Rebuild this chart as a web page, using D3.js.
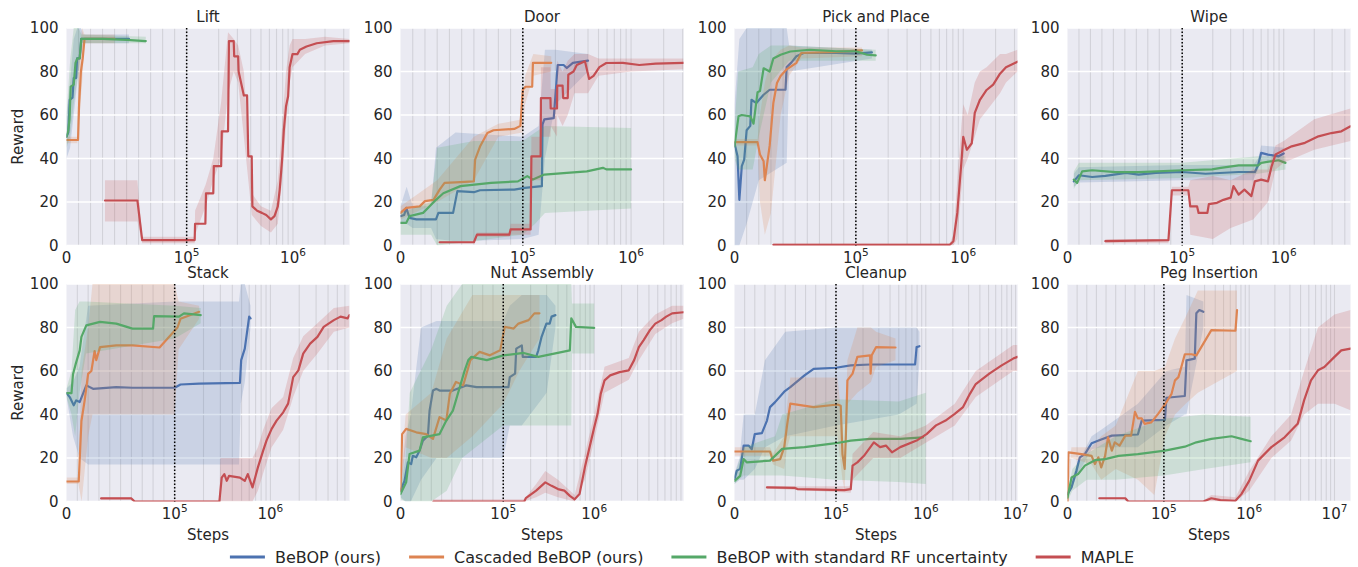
<!DOCTYPE html>
<html>
<head>
<meta charset="utf-8">
<script src="https://cdn.jsdelivr.net/npm/d3@7"></script>
<style>
  body { margin: 0; background: #fff; }
  svg { display: block; }
  text { font-family: "DejaVu Sans", sans-serif; fill: #262626; }
</style>
</head>
<body>
<svg id="chart" width="1358" height="567"></svg>
<script>
// ---- chart data (steps, reward) ----
const panelTitles = ["Lift", "Door", "Pick and Place", "Wipe", "Stack", "Nut Assembly", "Cleanup", "Peg Insertion"];
const panelMaxSteps = [3.4e6, 3.05e6, 3.2e6, 4.55e6, 6.7e6, 9.6e6, 1.05e7, 1.54e7];
const seriesNames = ["BeBOP (ours)", "Cascaded BeBOP (ours)", "BeBOP with standard RF uncertainty", "MAPLE"];
const seriesColors = ["#4C72B0", "#DD8452", "#55A868", "#C44E52"];
const yTicks = [0, 20, 40, 60, 80, 100];
const xMajorTicks = [0, 1e5, 1e6, 1e7];
const dividerStep = 1e5;

// Lift
const liftBlue = [[0,50],[1500,52],[2700,67],[5000,68],[6000,77],[8000,77],[8800,86],[11000,86],[12300,95],[30000,95],[52000,95]];
const liftBlueBand = [[0,40,60],[3000,45,75],[6000,60,95],[9000,75,100],[12000,88,100],[14000,93,97],[52000,93,97]];
const liftOrange = [[0,48.5],[9600,48.5],[10500,65],[12000,80],[13500,86],[15000,95],[40000,95]];
const liftOrangeBand = [[0,47,50],[9000,47,50],[10000,55,85],[13000,75,100],[15000,93,97],[40000,93,97]];
const liftGreen = [[0,50],[1500,53],[2500,58],[3500,73],[6000,74],[7500,84],[9000,86],[11000,86],[12300,95],[30000,95],[50000,94.5],[66000,94]];
const liftGreenBand = [[0,45,60],[3000,50,85],[6000,65,100],[10000,80,100],[12500,93,97],[66000,93,96]];
const liftRed = [[32000,20.7],[59000,20.7],[63000,2.5],[119000,2.5],[120000,10],[150000,10],[152000,24],[178000,24],[180000,36.5],[211000,36.5],[214000,52.5],[245000,52.5],[250000,94],[277000,94],[280000,87],[305000,87],[308000,80],[345000,69],[370000,69],[380000,41],[409000,41],[415000,18],[460000,16],[510000,15],[560000,14],[620000,12],[670000,13.5],[720000,18],[750000,25.7],[790000,39.5],[820000,53],[860000,64],[900000,68.6],[930000,82],[990000,88],[1100000,88],[1160000,90],[1340000,91.5],[1670000,93],[2400000,94],[3400000,94]];
const liftRedBand = [[32000,11,30],[59000,11,30],[63000,1,4],[119000,1,4],[120000,5,16],[151000,18,28],[178000,30,40],[211000,40,66],[245000,70,98],[277000,80,95],[305000,75,92],[345000,50,80],[380000,30,50],[410000,14,24],[500000,9,18],[620000,6,16],[720000,10,30],[790000,30,55],[860000,55,80],[930000,75,92],[990000,82,95],[1300000,88,95],[2000000,92,96],[3400000,93,95]];

// Door
const doorBlue = [[0,13.5],[3000,14],[4700,17.3],[7400,12.7],[13000,12],[29000,12],[31000,15],[43000,15],[46500,25],[60000,24.5],[65000,25.4],[93000,25.7],[104000,26.5],[150000,27.3],[152000,55.6],[158000,58],[193000,58.6],[210000,83],[238000,83],[255000,81.6],[290000,84],[400000,85]];
const doorBlueBand = [[0,10,18],[5000,10,27],[10000,8,18],[25000,8,18],[29000,3,45],[45000,2,52],[100000,3,50],[140000,5,55],[160000,40,90],[200000,65,90],[400000,80,88]];
const doorOrange = [[0,15],[4700,17.3],[15700,18],[20000,20.4],[27000,21],[32000,25.7],[36000,28.8],[45000,29],[60000,29.5],[61000,39.5],[65000,45.5],[71000,51.7],[76000,53],[93000,53.6],[98000,55],[100000,71.7],[106000,73],[122000,73],[124000,84],[183000,84]];
const doorOrangeBand = [[0,12,18],[30000,20,30],[60000,30,50],[80000,50,56],[100000,52,58],[105000,65,78],[125000,78,88],[183000,80,87]];
const doorGreen = [[0,10.4],[4700,10.4],[7400,13.5],[18500,15],[29000,21],[35000,24],[49000,27.3],[74000,28.8],[96000,29.5],[110000,31.9],[124000,30.3],[158000,32.6],[255000,33.4],[390000,34.1],[550000,35.7],[590000,35],[1000000,35]];
const doorGreenBand = [[0,5,15],[25000,5,20],[30000,0,45],[60000,2,48],[100000,5,48],[130000,10,52],[160000,15,55],[1000000,17,54]];
const doorRed = [[32000,1.5],[60000,1.5],[62500,5],[89000,5],[90000,7.4],[118000,7.4],[120000,41],[146000,41],[147000,67.8],[180000,67.8],[181000,63],[207000,63],[208000,73.5],[233000,73.5],[236000,67.8],[260000,67.8],[263000,78.5],[294000,80],[315000,83],[375000,84.7],[410000,76.6],[450000,78],[510000,82],[590000,83.9],[840000,84],[1190000,83],[1690000,83.6],[3050000,84]];
const doorRedBand = [[32000,1,2],[60000,1,2],[62500,4,6],[89000,4,6],[90000,5,10],[118000,5,10],[120000,30,50],[146000,30,50],[147000,50,82],[180000,50,82],[181000,55,72],[207000,50,72],[208000,60,85],[233000,55,80],[260000,60,85],[300000,70,88],[400000,70,88],[500000,78,86],[1000000,80,86],[3050000,81,86]];

// Pick and Place
const pickBlue = [[0,47],[2500,41],[4000,21],[6000,36.5],[8000,39.5],[10000,53],[13000,55],[14000,67],[18000,65.5],[24000,69.3],[29000,71.6],[42000,71.6],[43000,82],[47000,84.2],[51000,87],[57000,88.5],[84000,88.5],[100000,88.2],[141000,88.8]];
const pickBlueBand = [[0,0,65],[4000,0,95],[10000,10,100],[20000,30,100],[43000,38,100],[45000,80,92],[141000,86,90]];
const pickOrange = [[0,47.5],[19000,47.5],[21000,41.8],[24000,38.7],[25000,30],[27000,38],[29000,46],[32000,65.5],[35000,74.7],[38000,77.9],[43000,81],[51000,84],[55000,88.5],[84000,89],[114000,89.7]];
const pickOrangeBand = [[0,46,49],[19000,46,49],[21000,20,60],[25000,5,75],[30000,15,85],[38000,60,90],[45000,78,92],[55000,86,91],[114000,87,91]];
const pickGreen = [[0,45.6],[3300,59.4],[6000,60],[13000,59.4],[15700,56],[19000,70.5],[21000,71],[24000,81.5],[29000,80],[32000,86],[38000,87.7],[46000,89.2],[62000,90],[84000,89.3],[100000,89.3],[127000,87.7],[153000,87.4]];
const pickGreenBand = [[0,40,55],[3000,35,80],[15000,35,82],[20000,50,88],[30000,75,92],[45000,85,92],[153000,85,90]];
const pickRed = [[32000,0.3],[750000,0.3],[810000,2],[880000,15],[960000,38],[1000000,50],[1080000,44],[1200000,47],[1280000,61],[1430000,67],[1650000,71.5],[1900000,74],[2200000,79],[2500000,82],[3200000,84.5]];
const pickRedBand = [[32000,0,1],[750000,0,1],[810000,0,5],[880000,3,30],[960000,25,55],[1000000,35,65],[1100000,40,60],[1280000,50,75],[1430000,58,80],[1650000,62,82],[2200000,70,88],[2500000,75,88],[3200000,80,90]];

// Wipe
const wipeBlue = [[5500,29.5],[10000,32.3],[21500,31.5],[33000,32],[51000,33.4],[62000,32.6],[77000,33.4],[100000,33.8],[170000,33],[360000,33.8],[520000,33.8],[560000,37],[600000,42.6],[700000,41.8],[890000,41],[1000000,42.3]];
const wipeBlueBand = [[5500,27,33],[10000,29,36],[100000,30,37],[500000,30,37],[560000,35,40],[600000,39,46],[1000000,39,45]];
const wipeOrange = [];
const wipeOrangeBand = [];
const wipeGreen = [[5500,30.3],[8400,28.8],[12800,34.1],[21500,34.6],[42000,33.7],[62000,33.7],[100000,34.6],[197000,35],[240000,35.7],[360000,36.8],[560000,36.8],[600000,38],[890000,39.2],[1040000,38]];
const wipeGreenBand = [[5500,26,34],[10000,30,38],[100000,31,38],[560000,33,41],[1040000,35,41]];
const wipeRed = [[33000,2],[88000,2.5],[91000,25.4],[115000,25.4],[120000,18],[140000,18],[145000,15],[177000,15],[183000,19],[220000,19.6],[255000,21],[300000,22],[320000,27.3],[360000,23.4],[410000,25.7],[480000,22.7],[520000,29.5],[600000,30.3],[700000,29.5],[760000,36.4],[830000,41.8],[960000,43.4],[1200000,45.6],[1620000,47.2],[2200000,50.2],[2950000,51.7],[3700000,52.5],[4550000,54.8]];
const wipeRedBand = [[33000,1,3],[88000,1,3],[91000,23,27],[115000,23,27],[120000,5,30],[200000,3,32],[300000,8,30],[500000,12,35],[700000,20,35],[830000,35,46],[1000000,38,48],[2000000,44,58],[4550000,48,63]];

// Stack
const stackBlue = [[0,49.8],[3000,48],[6700,44.2],[9000,46.5],[12200,45.7],[18300,53.4],[24500,51.8],[46000,52.6],[61000,52.3],[100000,52.3],[115000,53.8],[180000,54.2],[480000,54.5],[495000,65],[540000,70.3],[580000,80.3],[600000,85],[620000,84.2]];
const stackBlueBand = [[0,48,52],[6000,30,55],[12000,20,62],[20000,17,90],[100000,17,92],[470000,17,92],[490000,45,100],[540000,55,100],[620000,80,90]];
const stackOrange = [[0,9.2],[11300,9.2],[13800,37],[16800,46.5],[20000,58.7],[23000,60],[26000,69.2],[27500,65],[31000,71],[46000,71.8],[61000,71.8],[86000,70.8],[107000,80],[115000,84],[180000,87.2]];
const stackOrangeBand = [[0,8,11],[11000,8,11],[14000,0,60],[20000,30,80],[24000,40,100],[100000,40,100],[110000,70,92],[180000,84,90]];
const stackGreen = [[0,49.8],[4600,49.8],[6000,58.5],[8600,63.4],[12200,69.5],[13800,75.7],[18300,81],[31000,82.6],[46000,81.8],[61000,79.5],[80000,79.5],[81000,85.2],[111000,85],[125000,86.5],[187000,85.7]];
const stackGreenBand = [[0,48,52],[4600,40,60],[8000,30,88],[12000,50,92],[18000,68,92],[100000,75,90],[187000,82,89]];
const stackRed = [[32000,1.4],[60000,1.4],[63000,0],[293000,0],[310000,11],[330000,12.6],[350000,9.5],[370000,11.8],[480000,11],[540000,9.5],[580000,12.6],[650000,6.5],[740000,15.7],[840000,23.4],[910000,28],[1030000,33.4],[1160000,37.2],[1360000,41],[1530000,45],[1730000,57.2],[1960000,60.3],[2200000,68],[2600000,72.6],[3100000,75.7],[3600000,80.3],[4600000,83.4],[5400000,85],[6400000,84.2],[6700000,85.7]];
const stackRedBand = [[32000,1,2],[60000,1,2],[63000,0,0.5],[293000,0,0.5],[300000,0,20],[650000,0,20],[740000,5,25],[840000,13,33],[1030000,25,43],[1360000,33,48],[1730000,48,66],[2200000,60,76],[3100000,68,82],[4600000,78,89],[6700000,80,90]];

// Nut Assembly
const nutBlue = [[0,5],[3900,9.5],[7200,18],[10400,17.2],[12000,21],[15300,20.3],[18600,23.4],[21800,28],[26700,30.3],[28300,41.8],[31600,51],[35000,51.8],[38000,51],[51000,51],[64000,53.4],[74000,52.6],[114000,52.6],[118000,57.2],[135000,58.8],[139000,70.3],[160000,71.8],[164000,66.5],[230000,66.5],[243000,69.5],[264000,75.7],[298000,81.8],[324000,81.8],[340000,85],[375000,85.7]];
const nutBlueBand = [[0,2,8],[5000,0,30],[10000,0,40],[20000,10,80],[35000,20,83],[100000,20,83],[118000,35,90],[160000,35,95],[300000,50,95],[375000,80,90]];
const nutOrange = [[0,5],[1600,31],[5500,33.4],[15300,31.8],[25000,31],[31600,28.8],[38000,38.8],[44600,37.2],[48000,49.5],[54000,55],[61000,53.4],[68000,65],[77000,68.8],[87000,67.2],[97000,69.5],[104000,80.3],[130000,79.5],[147000,81.8],[190000,83.4],[220000,86.5],[250000,86.5]];
const nutOrangeBand = [[0,3,10],[5000,25,40],[30000,20,50],[45000,20,75],[70000,30,95],[100000,45,95],[150000,60,95],[250000,75,95]];
const nutGreen = [[0,3.4],[5500,8.8],[8800,21.8],[18600,23.4],[21800,29.5],[38000,31],[44600,37.2],[51000,41.8],[62500,60.3],[66000,65],[69000,66.5],[84000,65],[100000,67.2],[168000,68.3],[243000,66.5],[540000,69.5],[560000,84.2],[630000,80.3],[1000000,79.8]];
const nutGreenBand = [[0,1,6],[5000,0,20],[9000,0,50],[30000,0,70],[45000,5,90],[60000,20,100],[100000,35,100],[200000,35,100],[560000,35,100],[570000,68,91],[1000000,68,91]];
const nutRed = [[32000,0],[170000,0],[177000,1.5],[230000,5],[290000,8.8],[340000,7.2],[400000,5.7],[470000,5],[540000,2.6],[610000,1],[690000,3.4],[790000,15.7],[1000000,34],[1090000,40.3],[1180000,49.5],[1300000,55.7],[1500000,58],[1900000,59.5],[2400000,60.3],[2750000,65],[3100000,71],[3500000,74.2],[4100000,78.8],[4700000,81.8],[5500000,83.4],[6200000,85],[7200000,86.5],[9600000,87]];
const nutRedBand = [[32000,0,1],[170000,0,1],[230000,2,8],[290000,4,14],[400000,2,10],[610000,0,3],[790000,10,22],[1000000,28,40],[1300000,50,62],[2400000,56,66],[3100000,65,78],[4700000,77,86],[7200000,82,90],[9600000,84,90]];

// Cleanup
const cleanBlue = [[0,10.3],[2300,14.2],[5600,15],[9000,25.7],[14000,25.7],[17000,24],[20000,31],[27000,31.4],[32000,37.2],[35000,43.4],[40000,45.7],[49000,50.5],[55000,52.6],[69000,58],[78000,61],[100000,61.5],[146000,62.6],[240000,63],[520000,63],[760000,63],[790000,71],[850000,71.4]];
const cleanBlueBand = [[0,8,13],[5000,10,20],[9000,10,40],[20000,15,40],[30000,25,65],[50000,30,78],[100000,35,80],[500000,40,80],[790000,45,80],[850000,65,78]];
const cleanOrange = [[0,23],[35000,23],[38000,18.8],[45000,19.5],[49000,25],[52000,35.7],[55000,45],[78000,43.4],[104000,44.6],[113000,44],[118000,21.8],[125000,15],[129000,31],[134000,55.7],[153000,58.8],[173000,66.5],[240000,67.2],[243000,58.8],[250000,67.2],[280000,71],[460000,70.8]];
const cleanOrangeBand = [[0,21,25],[35000,21,25],[38000,17,22],[49000,15,30],[52000,25,45],[55000,30,57],[104000,30,57],[118000,10,35],[125000,5,20],[134000,45,65],[173000,50,80],[245000,55,80],[280000,62,78],[460000,65,75]];
const cleanGreen = [[0,9.5],[5600,11.8],[9000,19.5],[12000,18],[35000,18.8],[47000,24.2],[69000,25],[100000,26.8],[146000,28],[240000,28.8],[520000,28.8],[930000,29.5]];
const cleanGreenBand = [[0,8,12],[9000,12,25],[40000,12,30],[47000,12,40],[100000,10,47],[500000,9,46],[1000000,8,50]];
const cleanRed = [[32000,6.5],[59000,6.3],[62000,5.7],[124000,5.2],[146000,5.7],[153000,16.5],[173000,18],[205000,21],[264000,27.2],[310000,25],[360000,25.7],[420000,22.6],[520000,25],[790000,28],[1020000,31],[1300000,35],[1660000,37.2],[2100000,40.3],[2600000,43.4],[3100000,49.5],[3600000,54],[5100000,58.8],[7000000,62.6],[9400000,65.7],[10500000,66.5]];
const cleanRedBand = [[32000,6,7],[146000,4,7],[153000,10,22],[260000,20,32],[520000,20,30],[1000000,27,35],[2100000,35,45],[3600000,48,60],[9400000,60,72],[10500000,60,72]];

// Peg Insertion
const pegBlue = [[0,3.4],[4200,6.5],[9300,14.2],[12800,20.3],[18000,21.8],[25000,26.8],[35000,28.5],[46000,30.3],[73000,30.8],[77000,37.2],[103000,37.5],[107000,47.7],[176000,48.5],[184000,64.9],[230000,65.7],[240000,86.5],[260000,88],[290000,87.2]];
const pegBlueBand = [[0,2,5],[10000,12,17],[25000,24,30],[35000,25,33],[73000,25,45],[107000,35,60],[176000,40,62],[184000,40,95],[290000,80,92]];
const pegOrange = [[0,0],[1000,22.6],[14500,21.8],[25000,21],[28500,17.2],[32000,20.3],[35000,15.7],[39000,21],[42000,29.5],[46000,23.4],[49000,27.2],[54000,25.7],[60000,30.3],[66000,30.3],[70000,41.2],[73000,38.2],[77000,38.2],[80000,35.7],[87000,36.4],[94000,40.3],[103000,44.6],[123000,49.5],[135000,55.7],[148000,57.2],[160000,61.8],[176000,67.7],[210000,67.7],[240000,67.2],[290000,72.6],[360000,78.8],[690000,78.5],[720000,88]];
const pegOrangeBand = [[0,0,3],[4000,20,25],[25000,17,25],[35000,10,30],[50000,15,35],[73000,10,60],[90000,3,60],[103000,30,62],[135000,40,75],[180000,45,85],[250000,50,97],[720000,60,97]];
const pegGreen = [[0,1.8],[4200,11],[11000,12.6],[18000,16.5],[28500,19],[39000,19.5],[53000,21],[73000,21.8],[103000,23.4],[176000,25.2],[240000,27.2],[360000,28.8],[620000,30],[810000,28.8],[1040000,27.7]];
const pegGreenBand = [[0,0,3],[5000,5,15],[20000,10,22],[50000,10,30],[100000,12,38],[300000,15,40],[1040000,18,39]];
const pegRed = [[33000,1.5],[60000,1.5],[63000,0],[290000,0],[360000,1.5],[460000,0.6],[690000,0.3],[810000,3.4],[1000000,9.5],[1270000,18.8],[1820000,25],[2600000,29.5],[3100000,32.6],[3700000,35.7],[4400000,46.5],[5300000,55.7],[6400000,60.3],[7600000,61.8],[10000000,66.5],[12000000,69.5],[15400000,70.3]];
const pegRedBand = [[33000,1,2],[60000,1,2],[63000,0,0.5],[290000,0,0.5],[360000,0,3],[690000,0,2],[1000000,5,14],[1820000,20,30],[3100000,28,40],[4400000,40,60],[6400000,45,80],[10000000,45,86],[15400000,42,88]];

// per panel: [line, band] for blue, orange, green, red
const panelSeries = [
  [[liftBlue, liftBlueBand], [liftOrange, liftOrangeBand], [liftGreen, liftGreenBand], [liftRed, liftRedBand]],
  [[doorBlue, doorBlueBand], [doorOrange, doorOrangeBand], [doorGreen, doorGreenBand], [doorRed, doorRedBand]],
  [[pickBlue, pickBlueBand], [pickOrange, pickOrangeBand], [pickGreen, pickGreenBand], [pickRed, pickRedBand]],
  [[wipeBlue, wipeBlueBand], [wipeOrange, wipeOrangeBand], [wipeGreen, wipeGreenBand], [wipeRed, wipeRedBand]],
  [[stackBlue, stackBlueBand], [stackOrange, stackOrangeBand], [stackGreen, stackGreenBand], [stackRed, stackRedBand]],
  [[nutBlue, nutBlueBand], [nutOrange, nutOrangeBand], [nutGreen, nutGreenBand], [nutRed, nutRedBand]],
  [[cleanBlue, cleanBlueBand], [cleanOrange, cleanOrangeBand], [cleanGreen, cleanGreenBand], [cleanRed, cleanRedBand]],
  [[pegBlue, pegBlueBand], [pegOrange, pegOrangeBand], [pegGreen, pegGreenBand], [pegRed, pegRedBand]]
];

// ---- layout ----
const colX = [66.5, 400.5, 734.5, 1067.5];
const rowY = [28, 284];
const panelW = 283, panelH = 217.5;
const LIN_THRESH = 1e5;
const LIN_SCALE = 1.13; // width of the linear part, in decades (symlog)

function symT(v) {
  return v <= LIN_THRESH ? LIN_SCALE * v / LIN_THRESH : LIN_SCALE + Math.log10(v / LIN_THRESH);
}

const svg = d3.select('#chart');

panelTitles.forEach((title, i) => {
  const col = i % 4, row = Math.floor(i / 4);
  const maxStep = panelMaxSteps[i];
  const tScale = d3.scaleLinear().domain([0, symT(maxStep)]).range([0, panelW]);
  const x = v => tScale(symT(v));
  const y = d3.scaleLinear().domain([0, 100]).range([panelH, 0]);

  const g = svg.append('g').attr('transform', `translate(${colX[col]},${rowY[row]})`);
  g.append('rect').attr('width', panelW).attr('height', panelH).attr('fill', '#EAEAF2');

  const clipId = 'clip' + i;
  g.append('clipPath').attr('id', clipId)
    .append('rect').attr('width', panelW).attr('height', panelH);

  // vertical grid (minor + major)
  const vTicks = d3.range(1, 11).map(k => k * 1e4);
  for (let d = 1e5; d < maxStep; d *= 10) {
    for (let m = 2; m <= 10; m++) if (d * m <= maxStep) vTicks.push(d * m);
  }
  g.append('g').selectAll('line').data(vTicks).join('line')
    .attr('x1', d => x(d)).attr('x2', d => x(d))
    .attr('y1', 0).attr('y2', panelH)
    .attr('stroke', '#d2d2d9').attr('stroke-width', 1.1);

  // horizontal grid
  g.append('g').selectAll('line').data(yTicks).join('line')
    .attr('x1', 0).attr('x2', panelW)
    .attr('y1', d => y(d)).attr('y2', d => y(d))
    .attr('stroke', '#ffffff').attr('stroke-width', 1.3);

  // series
  const plot = g.append('g').attr('clip-path', `url(#${clipId})`);
  const area = d3.area().x(d => x(d[0])).y0(d => y(d[1])).y1(d => y(d[2]));
  const line = d3.line().x(d => x(d[0])).y(d => y(d[1]));
  panelSeries[i].forEach(([pts, band], s) => {
    if (band.length) {
      plot.append('path').attr('d', area(band))
        .attr('fill', seriesColors[s]).attr('fill-opacity', 0.2).attr('stroke', 'none');
    }
    if (pts.length) {
      plot.append('path').attr('d', line(pts))
        .attr('fill', 'none').attr('stroke', seriesColors[s])
        .attr('stroke-width', 2.2).attr('stroke-linejoin', 'round').attr('stroke-linecap', 'round');
    }
  });

  // dotted divider
  g.append('line')
    .attr('x1', x(dividerStep)).attr('x2', x(dividerStep))
    .attr('y1', 0).attr('y2', panelH)
    .attr('stroke', '#000').attr('stroke-width', 1.5).attr('stroke-dasharray', '1.5,2');

  // y tick labels
  g.append('g').selectAll('text').data(yTicks).join('text')
    .attr('x', -8).attr('y', d => y(d))
    .attr('text-anchor', 'end').attr('dominant-baseline', 'central')
    .style('font-size', '15px').text(d => d);

  // x tick labels
  const xt = g.append('g').selectAll('text').data(xMajorTicks.filter(d => d <= maxStep)).join('text')
    .attr('x', d => x(d)).attr('y', panelH + 17)
    .attr('text-anchor', 'middle').style('font-size', '15px');
  xt.each(function(d) {
    const t = d3.select(this);
    if (d === 0) { t.text('0'); return; }
    t.append('tspan').text('10');
    t.append('tspan').attr('dy', -7).style('font-size', '10.5px').text(Math.round(Math.log10(d)));
  });

  // title
  g.append('text').attr('x', panelW / 2).attr('y', -6)
    .attr('text-anchor', 'middle').style('font-size', '15px').text(title);

  if (row === 1) {
    g.append('text').attr('x', panelW / 2).attr('y', panelH + 38)
      .attr('text-anchor', 'middle').style('font-size', '15px').text('Steps');
  }
  if (col === 0) {
    g.append('text')
      .attr('transform', `translate(${18 - colX[0]},${panelH / 2}) rotate(-90)`)
      .attr('text-anchor', 'middle').attr('dominant-baseline', 'central')
      .style('font-size', '15px').text('Reward');
  }
});

// ---- legend ----
const legend = svg.append('g');
const items = legend.selectAll('g').data(seriesNames).join('g');
items.append('line').attr('x1', 0).attr('x2', 35).attr('y1', 0).attr('y2', 0)
  .attr('stroke', (d, i) => seriesColors[i]).attr('stroke-width', 3);
items.append('text').attr('x', 45).attr('y', 0).attr('dominant-baseline', 'central')
  .style('font-size', '16px').text(d => d);
let cursor = 0;
items.each(function() {
  const it = d3.select(this);
  it.attr('transform', `translate(${cursor},0)`);
  cursor += 45 + it.select('text').node().getComputedTextLength() + 28;
});
const legendW = cursor - 28;
legend.attr('transform', `translate(${682 - legendW / 2},557)`);
</script>
</body>
</html>
